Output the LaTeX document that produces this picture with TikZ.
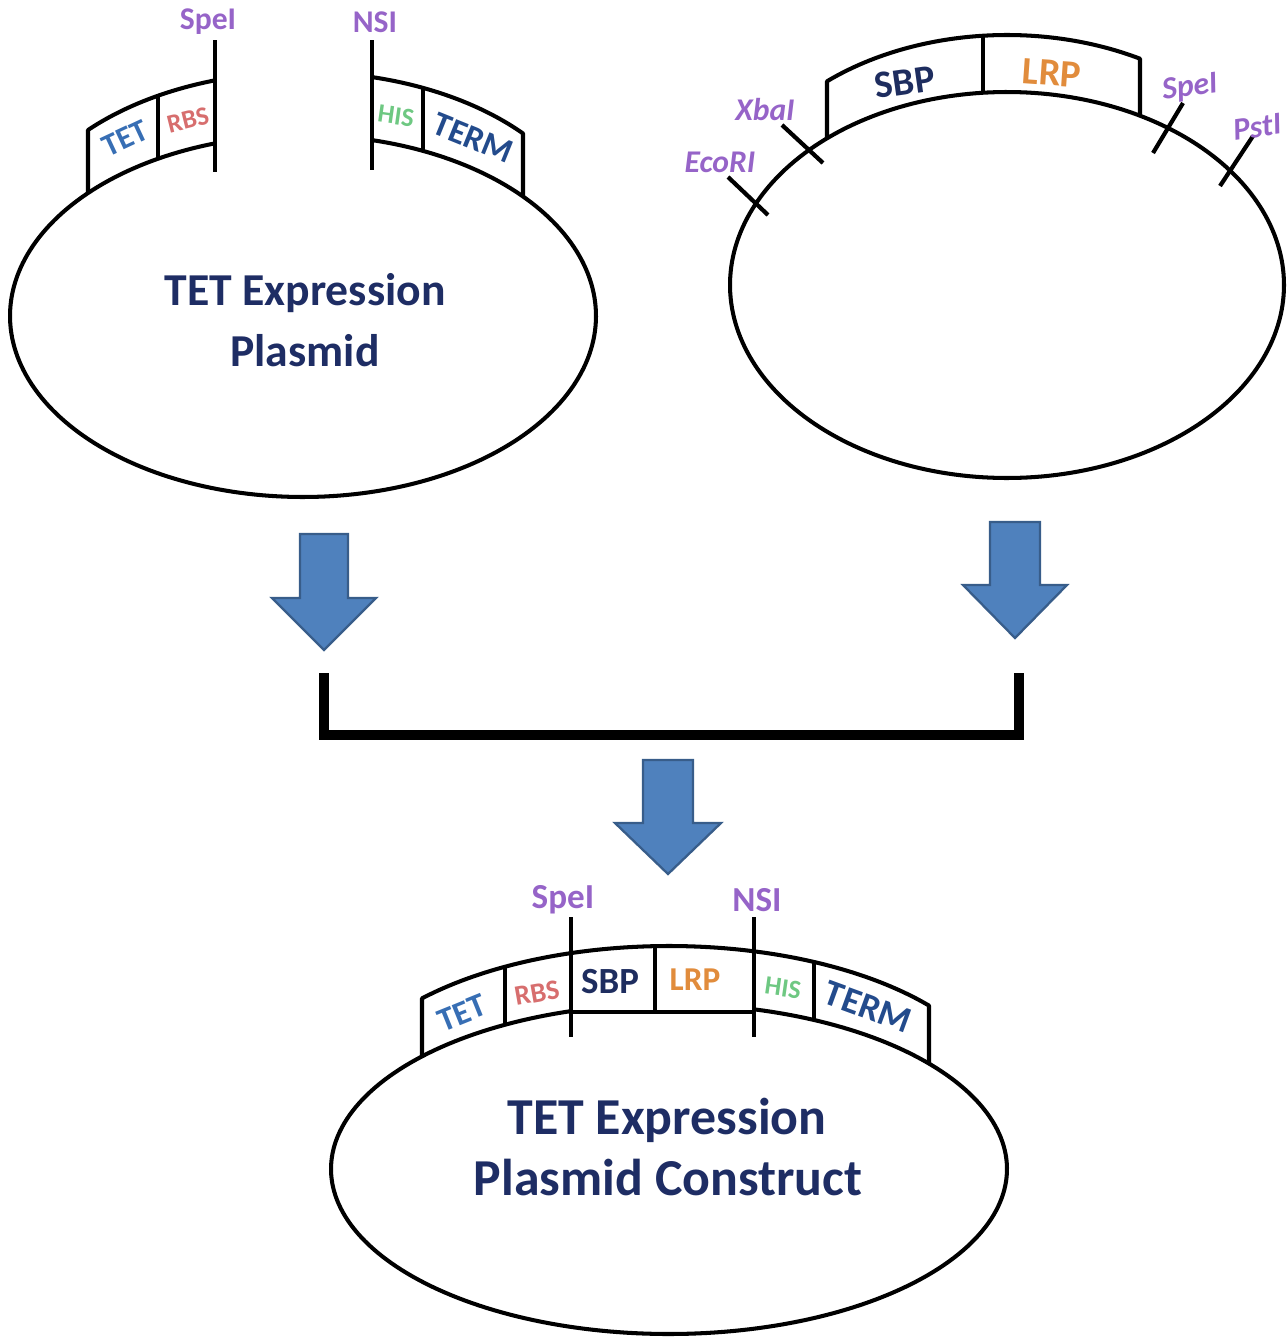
\documentclass[tikz,border=0pt]{standalone}
\usepackage{fontspec}
\setmainfont{Carlito}
\definecolor{navy}{RGB}{30,45,100}
\definecolor{enz}{RGB}{150,100,200}
\definecolor{tetc}{RGB}{55,110,180}
\definecolor{rbsc}{RGB}{215,110,110}
\definecolor{hisc}{RGB}{110,200,130}
\definecolor{termc}{RGB}{35,75,140}
\definecolor{sbpc}{RGB}{30,45,95}
\definecolor{lrpc}{RGB}{225,140,60}
\definecolor{arrfill}{RGB}{79,129,189}
\definecolor{arrdraw}{RGB}{56,93,138}
\newcommand\fs[1]{\fontsize{#1}{#1}\selectfont}
\newcommand\blockarrow[7]{%
  \draw[blockarr] (#2-#6,#3) -- (#2+#6,#3) -- (#2+#6,#4) -- (#2+#7,#4) -- (#2,#5)
    coordinate (#1) -- (#2-#7,#4) -- (#2-#6,#4) -- cycle;}
\begin{document}
\begin{tikzpicture}[x=0.02cm,y=-0.02cm,
  line/.style={line width=2.3pt,line join=round},
  site/.style={line width=2.8pt},
  tick/.style={line width=2.4pt},
  blockarr/.style={fill=arrfill,draw=arrdraw,line width=1.3pt,line join=miter},
  bracket/.style={line width=6.2pt,line join=miter},
  main/.style={font=\bfseries\fs{26},text=navy,inner sep=0pt},
  enzup/.style={font=\bfseries\fs{18},text=enz,inner sep=0pt},
  enzit/.style={font=\bfseries\itshape\fs{18},text=enz,inner sep=0pt},
  lab/.style={font=\bfseries,inner sep=0pt},
  declare function={
    eA(\x)=316-181*sqrt(1-((\x-303)/293)^2);
    eB(\x)=285-193*sqrt(1-((\x-1007)/277)^2);
    eC(\x)=1169-165*sqrt(1-((\x-669)/338)^2);
  }]
\useasboundingbox (0,0) rectangle (1288,1339);

% ---------------- top-left plasmid ----------------
\draw[line] plot[domain=-76.38:252.52,samples=220,variable=\t] ({303+293*cos(\t)},{316+181*sin(\t)});
\draw[line] (88,{eA(88)}) -- (88,{eA(88)-63}) -- plot[domain=88:215,samples=40] (\x,{eA(\x)-63});
\draw[line] (158,{eA(158)}) -- (158,{eA(158)-63});
\draw[line] plot[domain=372:523,samples=40] (\x,{eA(\x)-63}) -- (523,{eA(523)});
\draw[line] (423,{eA(423)}) -- (423,{eA(423)-63});
\draw[site] (215,40) -- (215,172);
\draw[site] (372,40) -- (372,170);
\node[enzup] (aSpe) at (208,22) {SpeI};
\node[enzup] (aNsi) at (375,22) {NSI};
\node[lab,text=tetc,font=\bfseries\fs{18},rotate=25] (aTet) at (125,138) {TET};
\node[lab,text=rbsc,font=\bfseries\fs{15},rotate=14] (aRbs) at (188,120) {RBS};
\node[lab,text=hisc,font=\bfseries\fs{15},rotate=-8] (aHis) at (396,116) {HIS};
\node[lab,text=termc,font=\bfseries\fs{19.5},rotate=-22] (aTerm) at (473,138) {TERM};
\node[main] (aT1) at (305,293) {TET Expression};
\node[main] (aT2) at (305,351) {Plasmid};

% ---------------- top-right plasmid ----------------
\draw[line] plot[domain=0:360,samples=240,variable=\t] ({1007+277*cos(\t)},{285+193*sin(\t)}) -- cycle;
\draw[line] (827,{eB(827)}) -- (827,{eB(827)-57}) -- plot[domain=827:1140,samples=60] (\x,{eB(\x)-57}) -- (1140,{eB(1140)});
\draw[line] (983,{eB(983)}) -- (983,{eB(983)-57});
\draw[tick] (782,125) -- (823,163);
\draw[tick] (728,177) -- (768,215);
\draw[tick] (1183,103) -- (1153,153);
\draw[tick] (1253,136) -- (1220,186);
\node[lab,text=sbpc,font=\bfseries\fs{22},rotate=8] (bSbp) at (905,82) {SBP};
\node[lab,text=lrpc,font=\bfseries\fs{22},rotate=-4] (bLrp) at (1052,73) {LRP};
\node[enzit] (bXba) at (765,110) {XbaI};
\node[enzit] (bEco) at (720,162) {EcoRI};
\node[enzit,rotate=8] (bSpe) at (1190,88) {SpeI};
\node[enzit,rotate=8] (bPst) at (1257,127) {PstI};

% ---------------- arrows and bracket ----------------
\blockarrow{arA}{324}{534}{598}{650}{24}{52}
\blockarrow{arB}{1015}{522}{585}{638}{25}{52}
\coordinate (brL) at (324,673);
\coordinate (brR) at (1019,673);
\draw[bracket] (brL) -- ++(0,62) -| (brR);
\blockarrow{arC}{668}{760}{823}{874}{25}{53}

% ---------------- bottom plasmid ----------------
\draw[line] plot[domain=-75.43:253.15,samples=220,variable=\t] ({669+338*cos(\t)},{1169+165*sin(\t)});
\draw[line] (422,{eC(422)}) -- (422,{eC(422)-58}) -- plot[domain=422:929,samples=80] (\x,{eC(\x)-58}) -- (929,{eC(929)});
\draw[line] (505,{eC(505)}) -- (505,{eC(505)-58});
\draw[line] (814,{eC(814)}) -- (814,{eC(814)-58});
\draw[line] (655,1012) -- (655,{eC(655)-58});
\draw[site] (571,1012) -- (754,1012);
\draw[site] (571,917) -- (571,1037);
\draw[site] (754,917) -- (754,1037);
\node[enzup,font=\bfseries\fs{20}] (cSpe) at (563,900) {SpeI};
\node[enzup,font=\bfseries\fs{20}] (cNsi) at (757,900) {NSI};
\node[lab,text=tetc,font=\bfseries\fs{19},rotate=22] (cTet) at (462,1013) {TET};
\node[lab,text=rbsc,font=\bfseries\fs{16},rotate=10] (cRbs) at (537,993) {RBS};
\node[lab,text=sbpc,font=\bfseries\fs{21}] (cSbp) at (610,982) {SBP};
\node[lab,text=lrpc,font=\bfseries\fs{19}] (cLrp) at (695,980) {LRP};
\node[lab,text=hisc,font=\bfseries\fs{15},rotate=-8] (cHis) at (783,988) {HIS};
\node[lab,text=termc,font=\bfseries\fs{21},rotate=-20] (cTerm) at (868,1007) {TERM};
\node[main,font=\bfseries\fs{29.5}] (cT1) at (667,1120) {TET Expression};
\node[main,font=\bfseries\fs{29.5}] (cT2) at (668,1177) {Plasmid Construct};
\end{tikzpicture}
\end{document}
